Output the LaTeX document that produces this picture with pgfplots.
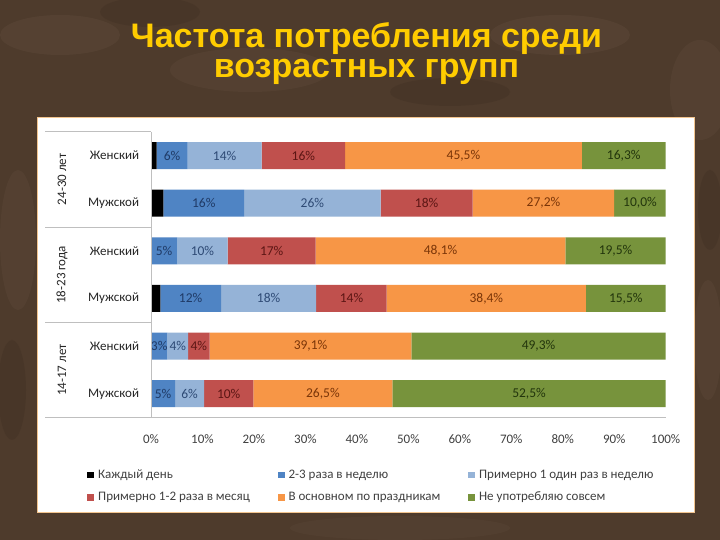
\documentclass[border=0pt]{standalone}
\usepackage{pgfplots}
\pgfplotsset{compat=1.18}
\usepackage{fontspec}
\setmainfont{Carlito}
\newfontfamily\titlefont{Liberation Sans}

\definecolor{bgbrown}{HTML}{4E3B2C}
\definecolor{bglight}{HTML}{9C8670}
\definecolor{bgdark}{HTML}{2A1E15}
\definecolor{titleyellow}{HTML}{FFCC00}
\definecolor{panelborder}{HTML}{F2C48E}
\definecolor{cBlue}{HTML}{4F84C4}
\definecolor{cLBlue}{HTML}{95B3D7}
\definecolor{cRed}{HTML}{C0504D}
\definecolor{cOrange}{HTML}{F79646}
\definecolor{cGreen}{HTML}{77933C}
\definecolor{tBlue}{HTML}{1F3A66}
\definecolor{tLBlue}{HTML}{2E4A75}
\definecolor{tRed}{HTML}{5C1614}
\definecolor{tOrange}{HTML}{7A3508}
\definecolor{tGreen}{HTML}{22350C}
\definecolor{linegray}{HTML}{BFBFBF}
\definecolor{labgray}{HTML}{404040}

\begin{document}
\begin{tikzpicture}
\begin{scope}[x=1bp,y=1bp]
  \useasboundingbox (0,0) rectangle (720,540);
  % background (soil photo, approximated)
  \begin{scope}
    \clip (0,0) rectangle (720,540);
    \fill[bgbrown] (0,0) rectangle (720,540);
    \fill[bglight,opacity=0.09] (60,505) ellipse (60 and 20);
    \fill[bglight,opacity=0.08] (250,470) ellipse (80 and 22);
    \fill[bglight,opacity=0.09] (560,505) ellipse (70 and 20);
    \fill[bglight,opacity=0.08] (700,450) ellipse (30 and 50);
    \fill[bglight,opacity=0.08] (18,300) ellipse (18 and 70);
    \fill[bglight,opacity=0.08] (708,200) ellipse (14 and 60);
    \fill[bglight,opacity=0.06] (400,12) ellipse (110 and 12);
    \fill[bgdark,opacity=0.15] (150,528) ellipse (50 and 15);
    \fill[bgdark,opacity=0.14] (450,448) ellipse (60 and 14);
    \fill[bgdark,opacity=0.14] (12,150) ellipse (14 and 50);
    \fill[bgdark,opacity=0.14] (710,330) ellipse (12 and 40);
  \end{scope}
  % white panel
  \fill[white] (37.5,27.7) rectangle (694.3,422.7);
  \draw[panelborder,line width=1bp] (37.5,27.7) rectangle (694.3,422.7);
  % title
  \node[anchor=base,text=titleyellow,
        font=\titlefont\bfseries\fontsize{34bp}{34bp}\selectfont]
        at (366.5,492.3) {Частота потребления среди};
  \node[anchor=base,text=titleyellow,
        font=\titlefont\bfseries\fontsize{34bp}{34bp}\selectfont]
        at (366.5,462.3) {возрастных групп};
\end{scope}

\begin{axis}[
  at={(151bp,122.5bp)}, anchor=south west,
  scale only axis, width=514.7bp, height=285.8bp,
  xbar stacked, bar width=27bp,
  xmin=0, xmax=100, ymin=0.5, ymax=6.5, y dir=reverse,
  axis line style={draw=none},
  major tick length=0pt,
  xtick={0,10,20,30,40,50,60,70,80,90,100},
  xticklabels={0\%,10\%,20\%,30\%,40\%,50\%,60\%,70\%,80\%,90\%,100\%},
  ytick={1,2,3,4,5,6},
  yticklabels={Женский,Мужской,Женский,Мужской,Женский,Мужской},
  x tick label style={font=\fontsize{13bp}{15bp}\selectfont,text=labgray,inner sep=0pt,yshift=-17bp},
  y tick label style={font=\fontsize{13bp}{15bp}\selectfont,text=black!85,inner sep=0pt,xshift=-11.7bp},
  every node near coord/.append style={anchor=center,
     font=\fontsize{13.5bp}{15bp}\selectfont},
  legend image code/.code={\fill[#1] (0bp,-3.4bp) rectangle (6.7bp,3.3bp);},
  legend columns=3,
  legend cell align=left,
  legend style={draw=none, fill=none, inner sep=0pt, outer sep=0pt,
    at={(axis description cs:-0.1234,-0.1802)}, anchor=north west,
    font=\fontsize{13bp}{15bp}\selectfont, text=labgray,
    nodes={inner sep=0pt, text height=9bp, text depth=3bp},
    row sep=10.7bp,
    /tikz/every odd column/.style={column sep=4bp},
    /tikz/every even column/.style={column sep=28bp}},
]
% Каждый день
\addplot[fill=black, draw=none] coordinates {
  (1.1,1) (2.4,2) (0,3) (1.8,4) (0,5) (0,6)};
% 2-3 раза в неделю
\addplot[fill=cBlue, draw=none, nodes near coords, point meta=explicit symbolic,
  every node near coord/.append style={text=tBlue}] coordinates {
  (6.0,1) [6\%] (15.7,2) [16\%] (5.1,3) [5\%] (11.8,4) [12\%] (3.2,5) [3\%] (4.7,6) [5\%]};
% Примерно 1 один раз в неделю
\addplot[fill=cLBlue, draw=none, nodes near coords, point meta=explicit symbolic,
  every node near coord/.append style={text=tLBlue}] coordinates {
  (14.4,1) [14\%] (26.5,2) [26\%] (9.8,3) [10\%] (18.5,4) [18\%] (4.0,5) [4\%] (5.6,6) [6\%]};
% Примерно 1-2 раза в месяц
\addplot[fill=cRed, draw=none, nodes near coords, point meta=explicit symbolic,
  every node near coord/.append style={text=tRed}] coordinates {
  (16.2,1) [16\%] (17.9,2) [18\%] (17.1,3) [17\%] (13.7,4) [14\%] (4.2,5) [4\%] (9.6,6) [10\%]};
% В основном по праздникам
\addplot[fill=cOrange, draw=none, nodes near coords, point meta=explicit symbolic,
  every node near coord/.append style={text=tOrange}] coordinates {
  (46.0,1) [45,5\%] (27.5,2) [27,2\%] (48.5,3) [48,1\%] (38.7,4) [38,4\%] (39.2,5) [39,1\%] (27.0,6) [26,5\%]};
% Не употребляю совсем
\addplot[fill=cGreen, draw=none, nodes near coords, point meta=explicit symbolic,
  every node near coord/.append style={text=tGreen}] coordinates {
  (16.3,1) [16,3\%] (10.0,2) [10,0\%] (19.5,3) [19,5\%] (15.5,4) [15,5\%] (49.4,5) [49,3\%] (53.1,6) [52,5\%]};
\legend{Каждый день, 2-3 раза в неделю, Примерно 1 один раз в неделю,
        Примерно 1-2 раза в месяц, В основном по праздникам, Не употребляю совсем}
\end{axis}

\begin{scope}[x=1bp,y=1bp]
  \draw[linegray,line width=0.8bp] (45,408.3) -- (151,408.3);
  \draw[linegray,line width=0.8bp] (45,313) -- (151,313);
  \draw[linegray,line width=0.8bp] (45,217.3) -- (151,217.3);
  \draw[linegray,line width=0.8bp] (45,122.5) -- (665.7,122.5);
  \draw[linegray,line width=0.8bp] (151,122.5) -- (151,408.3);
  \node[rotate=90,text=black!85,font=\fontsize{13bp}{15bp}\selectfont] at (62,360.6) {24-30 лет};
  \node[rotate=90,text=black!85,font=\fontsize{13bp}{15bp}\selectfont] at (62,265.1) {18-23 года};
  \node[rotate=90,text=black!85,font=\fontsize{13bp}{15bp}\selectfont] at (62,169.9) {14-17 лет};
\end{scope}
\end{tikzpicture}
\end{document}
